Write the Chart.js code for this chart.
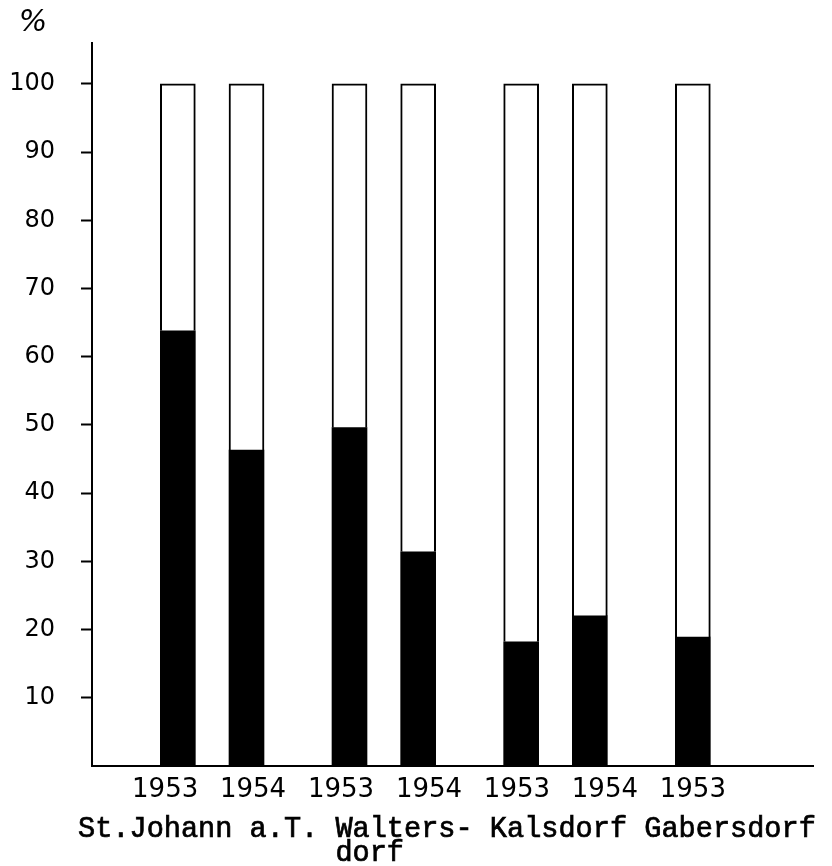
<!DOCTYPE html>
<html>
<head>
<meta charset="utf-8">
<script src="https://cdn.jsdelivr.net/npm/chart.js@4/dist/chart.umd.min.js"></script>
<style>
  html, body { margin: 0; padding: 0; background: #fff; }
  canvas { display: block; }
</style>
</head>
<body>
<canvas id="chart" width="832" height="866"></canvas>
<script>
// villages (typed line under the axis); second entry wraps onto a second line
const villages = [["St.Johann a.T."], ["Walters-", "dorf"], ["Kalsdorf"], ["Gabersdorf"]];
// one bar per survey year
const years = ["1953", "1954", "1953", "1954", "1953", "1954", "1953"];
const villageOfBar = [0, 0, 1, 1, 2, 2, 3];
// black share of each bar, in %
const blackShare = [63.8, 46.3, 49.6, 31.4, 18.2, 22.0, 18.9];
const yTicks = [10, 20, 30, 40, 50, 60, 70, 80, 90, 100];

// bar slots: each village block takes 5 slots, bars two slots apart
const slots = [];
let prev = -1, inGroup = 0;
villageOfBar.forEach(v => {
  inGroup = v === prev ? inGroup + 1 : 0;
  prev = v;
  slots.push(2 + 5 * v + 2 * inGroup);
});

// the year labels are lettered at an even pitch, not exactly under each bar
const labelStart = slots[0] - 0.37;
const labelStep = (slots[slots.length - 1] - labelStart) / (years.length - 1);
const labelSlots = years.map((y, i) => labelStart + labelStep * i);

const blackData = slots.map((s, i) => ({ x: s, y: blackShare[i] }));
const whiteData = slots.map((s, i) => ({ x: s, y: 100 - blackShare[i] }));

const typedText = {
  id: "typedText",
  afterDraw(chart) {
    const ctx = chart.ctx;
    const area = chart.chartArea;
    ctx.save();
    ctx.fillStyle = "#000";
    ctx.strokeStyle = "#000";
    ctx.lineWidth = 0.7;
    ctx.textBaseline = "alphabetic";
    ctx.textAlign = "left";
    // village names, typewriter style (slightly inked)
    ctx.font = "28.6px 'Liberation Mono'";
    const line1 = villages.map(v => v[0]).join(" ");
    const x0 = area.left - 14;
    const y1 = area.bottom + 71;
    ctx.fillText(line1, x0, y1);
    ctx.strokeText(line1, x0, y1);
    let prefix = "";
    villages.forEach(v => {
      if (v[1]) {
        const x = x0 + ctx.measureText(prefix).width;
        ctx.fillText(v[1], x, y1 + 24);
        ctx.strokeText(v[1], x, y1 + 24);
      }
      prefix += v[0] + " ";
    });
    // unit sign
    ctx.font = "italic 30px 'DejaVu Sans'";
    ctx.textAlign = "center";
    ctx.textBaseline = "middle";
    ctx.fillText("%", 33, 23);
    ctx.restore();
  }
};

new Chart(document.getElementById("chart"), {
  type: "bar",
  data: {
    datasets: [
      {
        data: blackData,
        backgroundColor: "#000",
        borderWidth: 0,
        barThickness: 35
      },
      {
        data: whiteData,
        backgroundColor: "#fff",
        borderColor: "#000",
        borderWidth: 2,
        barThickness: 35
      }
    ]
  },
  options: {
    responsive: false,
    animation: false,
    layout: { padding: { top: 43, left: 10, right: 19, bottom: 0 } },
    plugins: { legend: { display: false }, tooltip: { enabled: false } },
    scales: {
      x: {
        type: "linear",
        stacked: true,
        offset: false,
        min: -0.5,
        max: 20.5,
        afterBuildTicks: scale => { scale.ticks = labelSlots.map(s => ({ value: s })); },
        afterFit: scale => { scale.height = 100; },
        grid: { display: false, drawTicks: false, offset: false },
        border: { color: "#000", width: 2 },
        ticks: {
          autoSkip: false,
          maxRotation: 0,
          padding: 9,
          color: "#000",
          font: { family: "DejaVu Sans", size: 26 },
          callback: (v, i) => years[i]
        }
      },
      y: {
        stacked: true,
        min: 0,
        max: 106,
        afterBuildTicks: scale => { scale.ticks = yTicks.map(v => ({ value: v })); },
        afterFit: scale => { scale.width = 82; },
        grid: { drawOnChartArea: false, tickLength: 11, tickWidth: 2, tickColor: "#000" },
        border: { color: "#000", width: 2 },
        ticks: {
          padding: 26,
          color: "#000",
          font: { family: "DejaVu Sans", size: 24 }
        }
      }
    }
  },
  plugins: [typedText]
});
</script>
</body>
</html>
